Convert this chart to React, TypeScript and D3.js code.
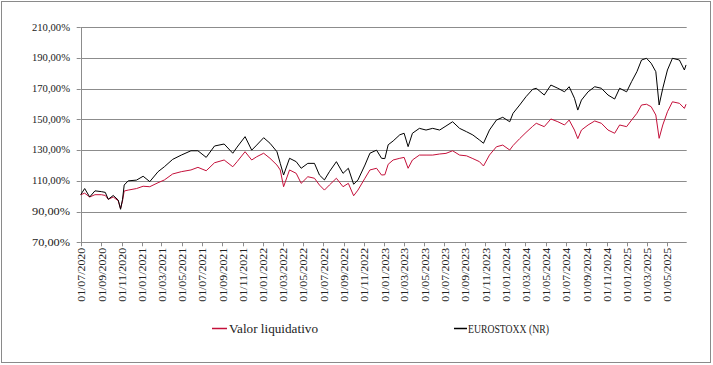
import React from "react";
import * as d3 from "d3";

const dates: string[] = [
  "2020-07-01","2020-07-13","2020-07-28","2020-08-13","2020-09-01","2020-09-13","2020-09-22","2020-10-07","2020-10-22","2020-10-29",
  "2020-11-04","2020-11-09","2020-11-21","2020-12-16","2021-01-05","2021-01-25","2021-02-19","2021-03-10","2021-04-04","2021-04-30",
  "2021-05-29","2021-06-19","2021-07-14","2021-08-08","2021-09-06","2021-10-02","2021-10-15","2021-11-08","2021-11-28","2021-12-13",
  "2022-01-03","2022-01-22","2022-02-12","2022-02-22","2022-03-04","2022-03-22","2022-04-11","2022-04-26","2022-05-16","2022-06-05",
  "2022-06-20","2022-07-05","2022-07-20","2022-08-10","2022-08-30","2022-09-15","2022-10-01","2022-10-14","2022-11-04","2022-11-19",
  "2022-12-09","2022-12-24","2023-01-03","2023-01-13","2023-01-28","2023-02-17","2023-03-02","2023-03-14","2023-03-27","2023-04-17",
  "2023-05-07","2023-05-27","2023-06-17","2023-07-06","2023-07-26","2023-08-16","2023-09-06","2023-09-25","2023-10-15","2023-10-27",
  "2023-11-14","2023-12-05","2023-12-24","2024-01-14","2024-01-24","2024-02-13","2024-03-03","2024-03-23","2024-04-03","2024-04-27",
  "2024-05-17","2024-06-07","2024-06-27","2024-07-11","2024-07-27","2024-08-06","2024-08-17","2024-09-06","2024-09-26","2024-10-16",
  "2024-11-05","2024-11-25","2024-12-10","2024-12-31","2025-01-15","2025-01-31","2025-02-14","2025-03-01","2025-03-15","2025-03-29",
  "2025-04-08","2025-04-19","2025-05-03","2025-05-18","2025-06-08","2025-06-23","2025-06-28"
];

const eurostoxx: number[] = [
  101,105,99.5,103.5,103,102.5,98,100.5,97.5,91.5,
  98,107.3,110,110.5,113,109.5,116,119.2,124,126.8,
  129.6,129.6,125.3,132.7,134,128,132,138.8,130,133.3,
  138.1,134.5,129,121.4,113.8,124.7,122.5,118.2,121.4,121.4,
  113.8,110.6,116,122.5,114.9,118.2,107.8,110.6,120.3,128,
  130,124.7,124.5,133.5,136,140,141,132.3,141,144.2,
  143.1,144.2,143.1,145.7,148.5,144.2,142,139.9,136.6,134.5,
  143.1,149.6,151.4,148.5,154,159.4,164.8,169.6,170.3,165.9,
  172.4,170.3,168,171.3,163.8,156.1,162.6,168,171.3,170.3,
  165.9,163.3,170.3,168,174.6,181.1,188.7,189.8,186.6,181.1,
  159.4,170.3,182.2,189.8,188.7,182.2,185.5
];

const valorLiquidativo: number[] = [
  101,102,99.5,101,101,100.5,98,99.5,97,92,
  97,103.4,104,105,106.5,106.2,108.8,110.6,114.5,116,
  117.1,118.8,116.6,121.8,123.6,119.2,122.5,129,123.6,125.7,
  128,124.7,120.3,117.1,106.2,117.1,114.9,108.4,112.7,111.7,
  107.3,104,107.3,111.7,106.2,108.4,100.3,104,111.7,117.1,
  118.2,113.8,114,120.8,123.6,124.7,125.3,118.2,123.6,126.8,
  126.8,126.8,127.5,127.9,129.6,126.8,126.3,124.5,122.5,119.7,
  126.8,132.2,133.3,130.1,133,137.5,141.5,145.5,147.5,145.3,
  150.3,148.5,146.4,149.6,143.1,137.5,143.1,146.4,149,147.5,
  143.1,141,146.4,145.3,149.6,154,159.4,159.9,158.3,152.9,
  137.7,146.4,155,161.5,160.5,157.2,159.9
];

const yTicks: number[] = [70, 90, 110, 130, 150, 170, 190, 210];
const seriesNames: string[] = ["Valor liquidativo", "EUROSTOXX (NR)"];

const W = 713;
const H = 365;
const left = 80.7;
const right = 686.7;
const top = 27.3;
const bottom = 242.3;
const RED = "#C4103A";
const GRID = "#8c8c8c";
const FONT = "'Liberation Serif', 'DejaVu Serif', serif";

export default function App() {
  const parse = d3.timeParse("%Y-%m-%d");
  const pd = dates.map((d) => parse(d) as Date);
  const x = d3
    .scaleTime()
    .domain([new Date(2020, 6, 1), new Date(2025, 5, 30)])
    .range([left, right]);
  const y = d3.scaleLinear().domain([70, 210]).range([bottom, top]);
  const xTicks = x.ticks(d3.timeMonth.every(2) as any).filter((d) => d <= new Date(2025, 5, 1));
  const fmtX = d3.timeFormat("%d/%m/%Y");
  const fmtY = (v: number) => v.toFixed(2).replace(".", ",") + "%";

  const line = d3
    .line<number>()
    .x((_, i) => x(pd[i]))
    .y((v) => y(v));

  return (
    <svg
      width={W}
      height={H}
      style={{ position: "absolute", left: 0, top: 0, background: "#fff" }}
    >
      <rect x={1.5} y={1.5} width={709} height={361} fill="#fff" stroke="#8a8a8a" strokeWidth={1} />
      {yTicks.map((t) => (
        <g key={t}>
          {t !== 70 && (
            <line x1={left} x2={right} y1={Math.round(y(t)) + 0.5} y2={Math.round(y(t)) + 0.5} stroke={GRID} strokeWidth={1} />
          )}
          <line x1={left - 4} x2={left} y1={Math.round(y(t)) + 0.5} y2={Math.round(y(t)) + 0.5} stroke={GRID} strokeWidth={1} />
          <text
            x={70}
            y={y(t) + 3.3}
            textAnchor="end"
            fontFamily={FONT}
            fontSize={9.5}
            textLength={38}
            lengthAdjust="spacingAndGlyphs"
            fill="#222"
          >
            {fmtY(t)}
          </text>
        </g>
      ))}
      <line x1={Math.round(left) + 0.5} x2={Math.round(left) + 0.5} y1={top} y2={bottom} stroke={GRID} strokeWidth={1} />
      <line x1={left} x2={right} y1={Math.round(bottom) + 0.5} y2={Math.round(bottom) + 0.5} stroke={GRID} strokeWidth={1} />
      {xTicks.map((d, i) => (
        <g key={i}>
          <line x1={Math.round(x(d)) + 0.5} x2={Math.round(x(d)) + 0.5} y1={bottom} y2={bottom + 4} stroke={GRID} strokeWidth={1} />
          <text
            transform={`translate(${x(d) + 4.5},${bottom + 5.5}) rotate(-90)`}
            textAnchor="end"
            fontFamily={FONT}
            fontSize={9.5}
            textLength={54}
            lengthAdjust="spacingAndGlyphs"
            fill="#222"
          >
            {fmtX(d)}
          </text>
        </g>
      ))}
      <path d={line(valorLiquidativo) || ""} fill="none" stroke={RED} strokeWidth={1} />
      <path d={line(eurostoxx) || ""} fill="none" stroke="#000" strokeWidth={1} />
      <line x1={212} x2={227} y1={328.5} y2={328.5} stroke={RED} strokeWidth={1.5} />
      <text x={229} y={332.5} fontFamily={FONT} fontSize={12.5} textLength={89} lengthAdjust="spacingAndGlyphs" fill="#222">
        {seriesNames[0]}
      </text>
      <line x1={454} x2={467} y1={328.5} y2={328.5} stroke="#000" strokeWidth={1.5} />
      <text x={468} y={332.5} fontFamily={FONT} fontSize={12.5} textLength={81} lengthAdjust="spacingAndGlyphs" fill="#222">
        {seriesNames[1]}
      </text>
    </svg>
  );
}
